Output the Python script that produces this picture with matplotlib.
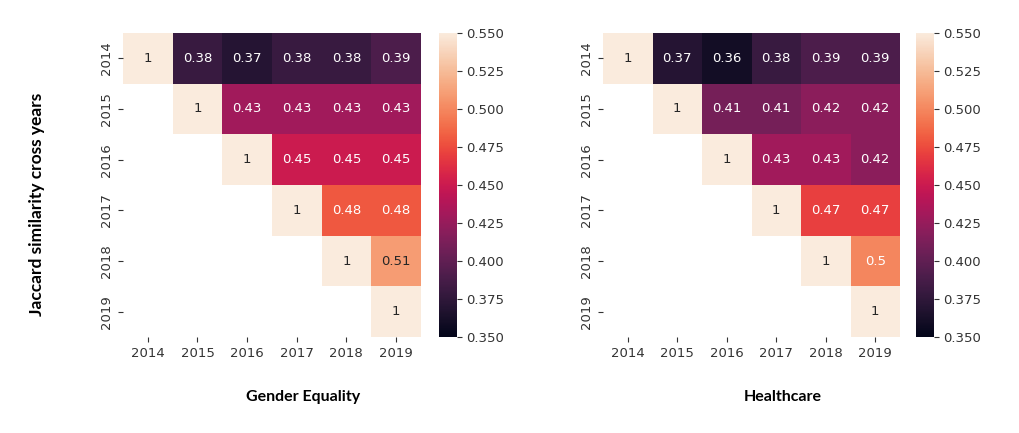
import numpy as np
import matplotlib
matplotlib.use('Agg')
import matplotlib.pyplot as plt
import seaborn as sns

years = ['2014', '2015', '2016', '2017', '2018', '2019']

# upper triangle, row by row (diagonal = 1)
gender_rows = [
    [1, 0.38, 0.37, 0.38, 0.38, 0.39],
    [1, 0.43, 0.43, 0.43, 0.43],
    [1, 0.45, 0.45, 0.45],
    [1, 0.48, 0.48],
    [1, 0.51],
    [1],
]
health_rows = [
    [1, 0.37, 0.36, 0.38, 0.39, 0.39],
    [1, 0.41, 0.41, 0.42, 0.42],
    [1, 0.43, 0.43, 0.42],
    [1, 0.47, 0.47],
    [1, 0.50],
    [1],
]
titles = ['Gender Equality', 'Healthcare']


def to_matrix(rows):
    n = len(years)
    m = np.full((n, n), np.nan)
    for i, r in enumerate(rows):
        m[i, i:] = r
    return m


fig = plt.figure(figsize=(10.2, 4.33), dpi=100)
axes_pos = [(0.1206, 0.2217, 0.2919, 0.7021), (0.5912, 0.2217, 0.2912, 0.7021)]
cbar_pos = [(0.4304, 0.2217, 0.0174, 0.7021), (0.8980, 0.2217, 0.0174, 0.7021)]
label_x = [0.297, 0.767]
bold_font = ['Lato', 'DejaVu Sans']

for k, rows in enumerate([gender_rows, health_rows]):
    ax = fig.add_axes(axes_pos[k])
    cax = fig.add_axes(cbar_pos[k])
    data = to_matrix(rows)
    sns.heatmap(data, ax=ax, cbar_ax=cax, vmin=0.35, vmax=0.55, annot=True,
                annot_kws={'size': 9.5}, xticklabels=years, yticklabels=years)
    ax.tick_params(labelsize=9.5, colors='#333333')
    ax.set_yticklabels(years, rotation=90, va='center')
    ax.set_xticklabels(years, rotation=0)
    cax.tick_params(labelsize=9.5, colors='#333333')
    cax.set_yticks([0.35, 0.375, 0.4, 0.425, 0.45, 0.475, 0.5, 0.525, 0.55])
    cax.set_yticklabels(['%.3f' % v for v in cax.get_yticks()])
    fig.text(label_x[k], 0.083, titles[k], ha='center', va='center',
             fontsize=11.5, fontweight='bold', family=bold_font)

fig.text(0.036, 0.527, 'Jaccard similarity cross years', rotation=90, ha='center',
         va='center', fontsize=12.5, fontweight='bold', family=bold_font)

plt.savefig('out.png', dpi=100)
